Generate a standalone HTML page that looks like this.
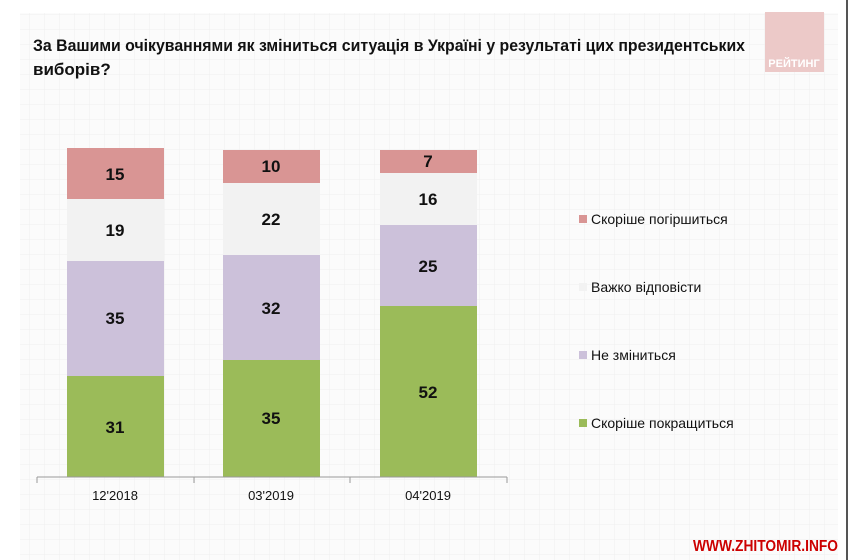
<!DOCTYPE html>
<html><head><meta charset="utf-8"><style>
html,body{margin:0;padding:0;background:#fff;}
svg{display:block;font-family:"Liberation Sans Narrow","Liberation Sans",sans-serif;}
</style></head><body>
<svg width="852" height="560" viewBox="0 0 852 560" xmlns="http://www.w3.org/2000/svg">
<defs>
<pattern id="g" width="15" height="15" patternUnits="userSpaceOnUse">
<rect width="15" height="15" fill="#fbfbfb"/>
<path d="M15 0V15M0 15H15" stroke="#efefef" stroke-width="1"/>
</pattern>
</defs>
<rect width="852" height="560" fill="#fff"/>
<rect x="20" y="13" width="818" height="547" fill="url(#g)"/>
<rect x="846" y="0" width="2" height="560" fill="#555"/>
<rect x="765" y="12" width="59" height="60" fill="#ecc9c8"/>
<text x="794" y="67" font-size="11" font-weight="bold" fill="#fff" text-anchor="middle">РЕЙТИНГ</text>
<text x="33" y="51" font-size="17" font-weight="bold" fill="#111" textLength="712" lengthAdjust="spacingAndGlyphs">За Вашими очікуваннями як зміниться ситуація в Україні у результаті цих президентських</text>
<text x="33" y="75" font-size="17" font-weight="bold" fill="#111">виборів?</text>
<g>
<rect x="67" y="148" width="97" height="51" fill="#d99594"/>
<rect x="67" y="199" width="97" height="62" fill="#f2f2f2"/>
<rect x="67" y="261" width="97" height="115" fill="#ccc1da"/>
<rect x="67" y="376" width="97" height="101" fill="#9bbb59"/>
<rect x="223" y="150" width="97" height="33" fill="#d99594"/>
<rect x="223" y="183" width="97" height="72" fill="#f2f2f2"/>
<rect x="223" y="255" width="97" height="105" fill="#ccc1da"/>
<rect x="223" y="360" width="97" height="117" fill="#9bbb59"/>
<rect x="380" y="150" width="97" height="23" fill="#d99594"/>
<rect x="380" y="173" width="97" height="52" fill="#f2f2f2"/>
<rect x="380" y="225" width="97" height="81" fill="#ccc1da"/>
<rect x="380" y="306" width="97" height="171" fill="#9bbb59"/>
</g>
<g font-size="17" font-weight="bold" fill="#111" text-anchor="middle">
<text x="115" y="180">15</text><text x="115" y="236">19</text><text x="115" y="324">35</text><text x="115" y="433">31</text>
<text x="271" y="172">10</text><text x="271" y="225">22</text><text x="271" y="314">32</text><text x="271" y="424">35</text>
<text x="428" y="167">7</text><text x="428" y="205">16</text><text x="428" y="272">25</text><text x="428" y="398">52</text>
</g>
<path d="M37 477H507M37 477V483M194 477V483M350 477V483M507 477V483" stroke="#999" stroke-width="1" fill="none"/>
<g font-size="13" fill="#111" text-anchor="middle">
<text x="115" y="500">12'2018</text><text x="271" y="500">03'2019</text><text x="428" y="500">04'2019</text>
</g>
<g font-size="14" fill="#111">
<rect x="579" y="215" width="8" height="8" fill="#d99594"/><text x="591" y="224">Скоріше погіршиться</text>
<rect x="579" y="283" width="8" height="8" fill="#f2f2f2"/><text x="591" y="292">Важко відповісти</text>
<rect x="579" y="351" width="8" height="8" fill="#ccc1da"/><text x="591" y="360">Не зміниться</text>
<rect x="579" y="419" width="8" height="8" fill="#9bbb59"/><text x="591" y="428">Скоріше покращиться</text>
</g>
<text x="693" y="551" font-size="16" font-weight="bold" fill="#c00" textLength="145" lengthAdjust="spacingAndGlyphs">WWW.ZHITOMIR.INFO</text>
</svg>
</body></html>
